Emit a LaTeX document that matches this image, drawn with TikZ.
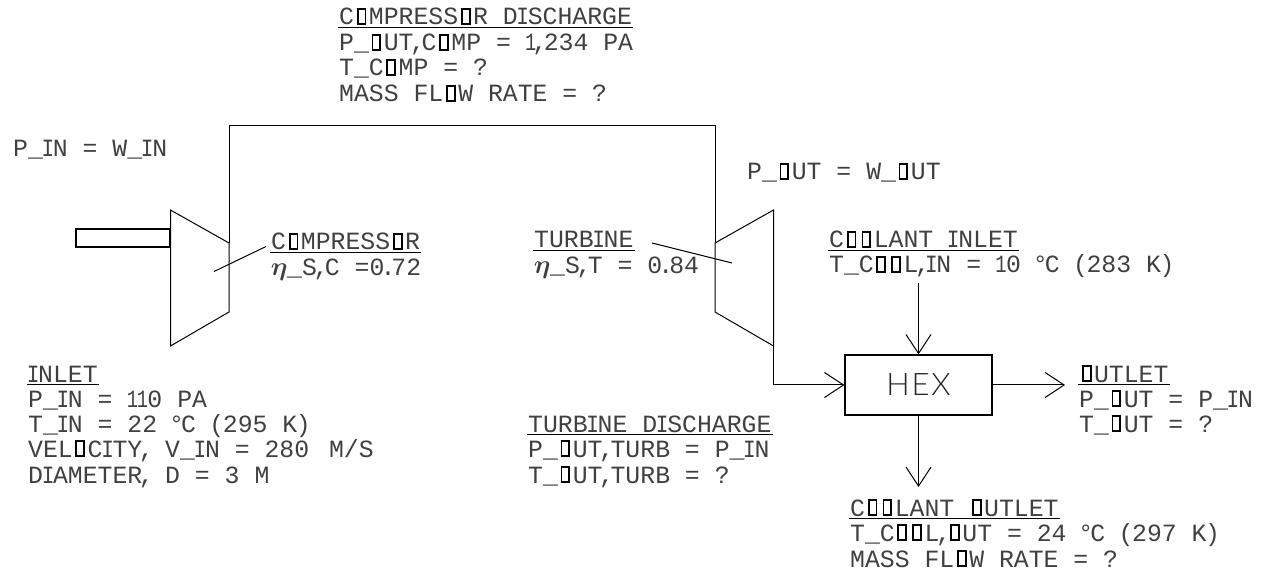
\documentclass[tikz,border=0pt]{standalone}
\usepackage{graphicx}
\usepackage{fontspec}
\setmainfont{Liberation Mono}
\newfontfamily\hexfont{Lato Light}[LetterSpace=6]
\usetikzlibrary{arrows.meta}
\newcommand\oO{\makebox[.6em][c]{\color{black}\raisebox{1.8pt}{\setlength\fboxrule{1.9pt}\setlength\fboxsep{0pt}\fbox{\makebox[.24em]{\textcolor{white}{\scalebox{.3}[.7]{O}}\rule{0pt}{.52em}}}}}}
\newcommand\etaB{\makebox[16pt][c]{\scalebox{1.05}{\boldmath$\eta$}}}
\newcommand\I{\makebox[10pt][c]{\scalebox{.85}[1]{I}}}
\newcommand\Cm{\makebox[8pt][c]{,}}
\newcommand\Pd{\makebox[7pt][c]{.}}
\newcommand\One{\makebox[10pt][c]{\scalebox{.75}[1]{1}}}
\newcommand\Dg{\makebox[9pt][c]{°}}
\newcommand\Lp{\makebox[12pt][c]{(}}
\newcommand\Rp{\makebox[12pt][c]{)}}
\tikzset{
  lbl/.style={anchor=base west,inner sep=0pt,font=\fontsize{24.8}{25}\selectfont,text=black!75},
  pipe/.style={line width=1pt},
  flow/.style={line width=1pt,-{Straight Barb[length=19pt,width=25pt,line width=1pt]}},
  lead/.style={line width=1pt},
  hexbox/.style={draw,line width=1.2pt,minimum width=147pt,minimum height=60pt,inner sep=0pt,font=\hexfont\fontsize{31}{31}\selectfont,text=black!85}
}
\newcommand\head[4]{\node[lbl] (#1) at (#2,#3) {#4};
  \draw[line width=1pt] ([yshift=-2.5pt,xshift=-1pt]#1.base west) -- ([yshift=-2.5pt,xshift=1pt]#1.base east);}
\begin{document}
\begin{tikzpicture}[x=1pt,y=-1pt]
\useasboundingbox (0,0) rectangle (1267,577);
% equipment corners
\coordinate (ctl) at (170.5,210); \coordinate (ctr) at (229,243);
\coordinate (cbr) at (229,312); \coordinate (cbl) at (170.5,346);
\coordinate (ttl) at (715,243); \coordinate (ttr) at (773.5,210);
\coordinate (tbr) at (773.5,346); \coordinate (tbl) at (715,312);
\coordinate (pipeA) at (229,126); \coordinate (pipeB) at (715,126);
\draw[pipe] (ctl) -- (ctr) -- (cbr) -- (cbl) -- cycle;
\draw[pipe] (ttl) -- (ttr) -- (tbr) -- (tbl) -- cycle;
\draw[pipe] (ctr) -- (pipeA) -- (pipeB) -- (ttl);
\node[draw,line width=1.5pt,minimum width=94pt,minimum height=18pt,inner sep=0pt] (shaft) at (123,238) {};
\node[hexbox] (hex) at (918.5,385) {HEX};
\coordinate (coolin) at (918.5,283);
\coordinate (coolout) at (918.5,487);
\coordinate (hexout) at (1065,385);
\draw[flow] (tbr) |- (hex.west);
\draw[flow] (coolin) -- (hex.north);
\draw[flow] (hex.south) -- (coolout);
\draw[flow] (hex.east) -- (hexout);
% leaders
\coordinate (la) at (214,271.5); \coordinate (lb) at (266,246.5);
\coordinate (lc) at (652,243); \coordinate (ld) at (732,263);
\draw[lead] (la) -- (lb);
\draw[lead] (lc) -- (ld);
% labels
\head{cd}{339}{25}{C\oO MPRESS\oO R D\I SCHARGE}
\node[lbl] (cd1) at (339,51) {P\_\oO UT\Cm C\oO MP = \One\Cm 234 PA};
\node[lbl] (cd2) at (339,76) {T\_C\oO MP = ?};
\node[lbl] (cd3) at (339,102) {MASS FL\oO W RATE = ?};
\node[lbl] (pin) at (13,157) {P\_\I N = W\_\I N};
\node[lbl] (pout) at (747,180) {P\_\oO UT = W\_\oO UT};
\head{comp}{271}{250}{C\oO MPRESS\oO R}
\node[lbl] (comp1) at (271,276) {\etaB\_S\Cm C =0\Pd 72};
\head{turb}{534}{248}{TURB\I NE}
\node[lbl] (turb1) at (534,274) {\etaB\_S\Cm T = 0\Pd 84};
\head{ci}{829}{248}{C\oO\oO LANT \I NLET}
\node[lbl] (ci1) at (829,273) {T\_C\oO\oO L\Cm\I N = \One 0 \Dg C \Lp 283 K\Rp};
\head{inl}{28}{382}{\I NLET}
\node[lbl] (inl1) at (28,407) {P\_\I N = \One\One 0 PA};
\node[lbl] (inl2) at (28,432) {T\_\I N = 22 \Dg C \Lp 295 K\Rp};
\node[lbl] (inl3) at (28,457) {VEL\oO C\I TY\Cm{} V\_\I N = 280\kern5pt{} M/S};
\node[lbl] (inl4) at (28,483) {D\I AMETER\Cm{} D = 3 M};
\head{td}{528}{432}{TURB\I NE D\I SCHARGE}
\node[lbl] (td1) at (528,457) {P\_\oO UT\Cm TURB = P\_\I N};
\node[lbl] (td2) at (528,483) {T\_\oO UT\Cm TURB = ?};
\head{ol}{1079}{382}{\oO UTLET}
\node[lbl] (ol1) at (1079,407) {P\_\oO UT = P\_\I N};
\node[lbl] (ol2) at (1079,432) {T\_\oO UT = ?};
\head{co}{850}{516}{C\oO\oO LANT \oO UTLET}
\node[lbl] (co1) at (850,541) {T\_C\oO\oO L\Cm\oO UT = 24 \Dg C \Lp 297 K\Rp};
\node[lbl] (co2) at (850,567) {MASS FL\oO W RATE = ?};
\end{tikzpicture}
\end{document}
